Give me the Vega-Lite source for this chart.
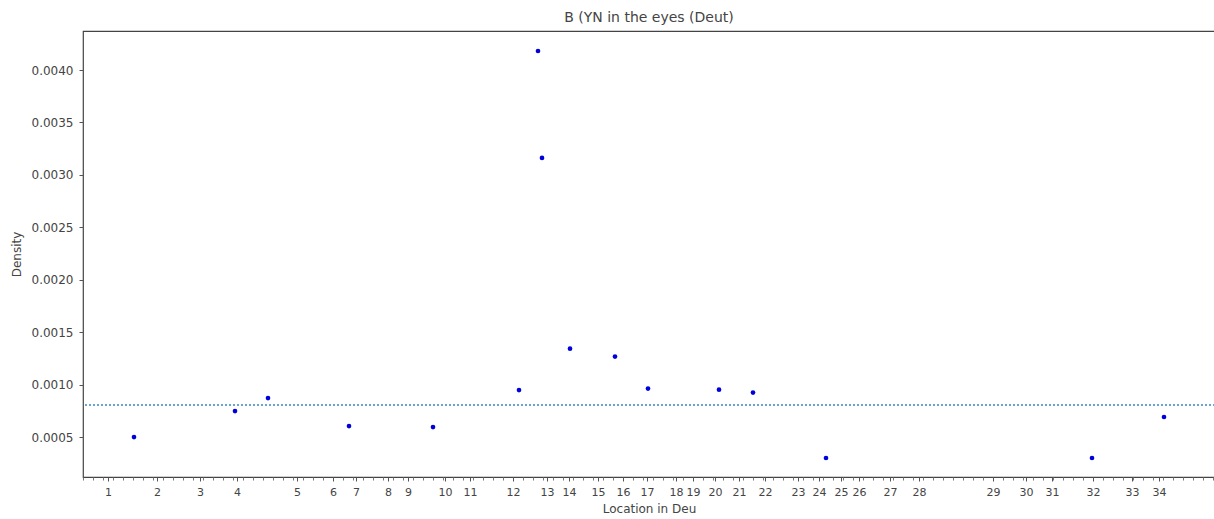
{
  "$schema": "https://vega.github.io/schema/vega-lite/v6.json",
  "autosize": {"type": "none"},
  "width": 1132,
  "height": 446,
  "padding": {"left": 83, "top": 31, "right": 0, "bottom": 42},
  "background": "white",
  "config": {
    "view": {"stroke": "#444", "strokeWidth": 1.2},
    "font": "DejaVu Sans",
    "axis": {"labelColor": "#444", "titleColor": "#444", "labelFont": "DejaVu Sans", "titleFont": "DejaVu Sans", "titleFontWeight": "normal", "grid": false, "domain": false, "tickColor": "#555"}
  },
  "title": {"text": "B (YN in the eyes (Deut)", "fontSize": 14, "fontWeight": "normal", "color": "#444", "font": "DejaVu Sans", "anchor": "middle", "offset": 6},
  "data": {
    "values": [
      {"location": 51, "density": 0.00050},
      {"location": 152, "density": 0.000748},
      {"location": 185, "density": 0.000872},
      {"location": 266, "density": 0.000605},
      {"location": 350, "density": 0.000595},
      {"location": 436, "density": 0.000948},
      {"location": 455, "density": 0.004181},
      {"location": 459, "density": 0.003162},
      {"location": 487, "density": 0.001343},
      {"location": 532, "density": 0.001267},
      {"location": 565, "density": 0.000962},
      {"location": 636, "density": 0.000952},
      {"location": 670, "density": 0.000924},
      {"location": 743, "density": 0.000300},
      {"location": 1009, "density": 0.000300},
      {"location": 1081, "density": 0.000691}
    ]
  },
  "resolve": {"axis": {"x": "independent"}},
  "layer": [
    {
      "mark": {"type": "point", "opacity": 0},
      "encoding": {
        "x": {"field": "location", "type": "quantitative", "scale": {"domain": [0, 1132], "nice": false, "zero": false},
          "axis": {"orient": "bottom", "tickCount": 113, "labels": false, "title": null, "tickSize": 3, "tickColor": "#777", "tickWidth": 1}},
        "y": {"field": "density", "type": "quantitative", "scale": {"domain": [0.000119, 0.004372], "nice": false, "zero": false},
          "axis": {"title": "Density", "titleFontSize": 12, "labelFontSize": 12, "tickSize": 4, "labelPadding": 6, "format": ".4f",
            "values": [0.0005, 0.001, 0.0015, 0.002, 0.0025, 0.003, 0.0035, 0.004], "titlePadding": 8}}
      }
    },
    {
      "mark": {"type": "rule", "color": "#6aa6d6", "strokeDash": [2, 2], "strokeWidth": 1.5},
      "encoding": {"y": {"datum": 0.000805, "type": "quantitative"}}
    },
    {
      "mark": {"type": "circle", "color": "#0000dd", "opacity": 1, "size": 22},
      "encoding": {
        "x": {"field": "location", "type": "quantitative",
          "axis": {"orient": "bottom", "title": "Location in Deu", "titleFontSize": 12, "titlePadding": 6, "labelFontSize": 11, "tickSize": 4, "labelPadding": 5, "labelOverlap": false,
            "values": [25, 74, 117, 154, 214, 250, 273, 305, 325, 362, 387, 430, 464, 486, 515, 540, 564, 593, 610, 632, 656, 682, 715, 736, 758, 776, 807, 836, 910, 943, 969, 1010, 1049, 1076],
            "labelExpr": "indexof([25, 74, 117, 154, 214, 250, 273, 305, 325, 362, 387, 430, 464, 486, 515, 540, 564, 593, 610, 632, 656, 682, 715, 736, 758, 776, 807, 836, 910, 943, 969, 1010, 1049, 1076], datum.value) + 1"}},
        "y": {"field": "density", "type": "quantitative",
          "axis": {"title": "Density", "titleFontSize": 12, "labelFontSize": 12, "tickSize": 4, "labelPadding": 6, "format": ".4f",
            "values": [0.0005, 0.001, 0.0015, 0.002, 0.0025, 0.003, 0.0035, 0.004], "titlePadding": 8}}
      }
    }
  ]
}
